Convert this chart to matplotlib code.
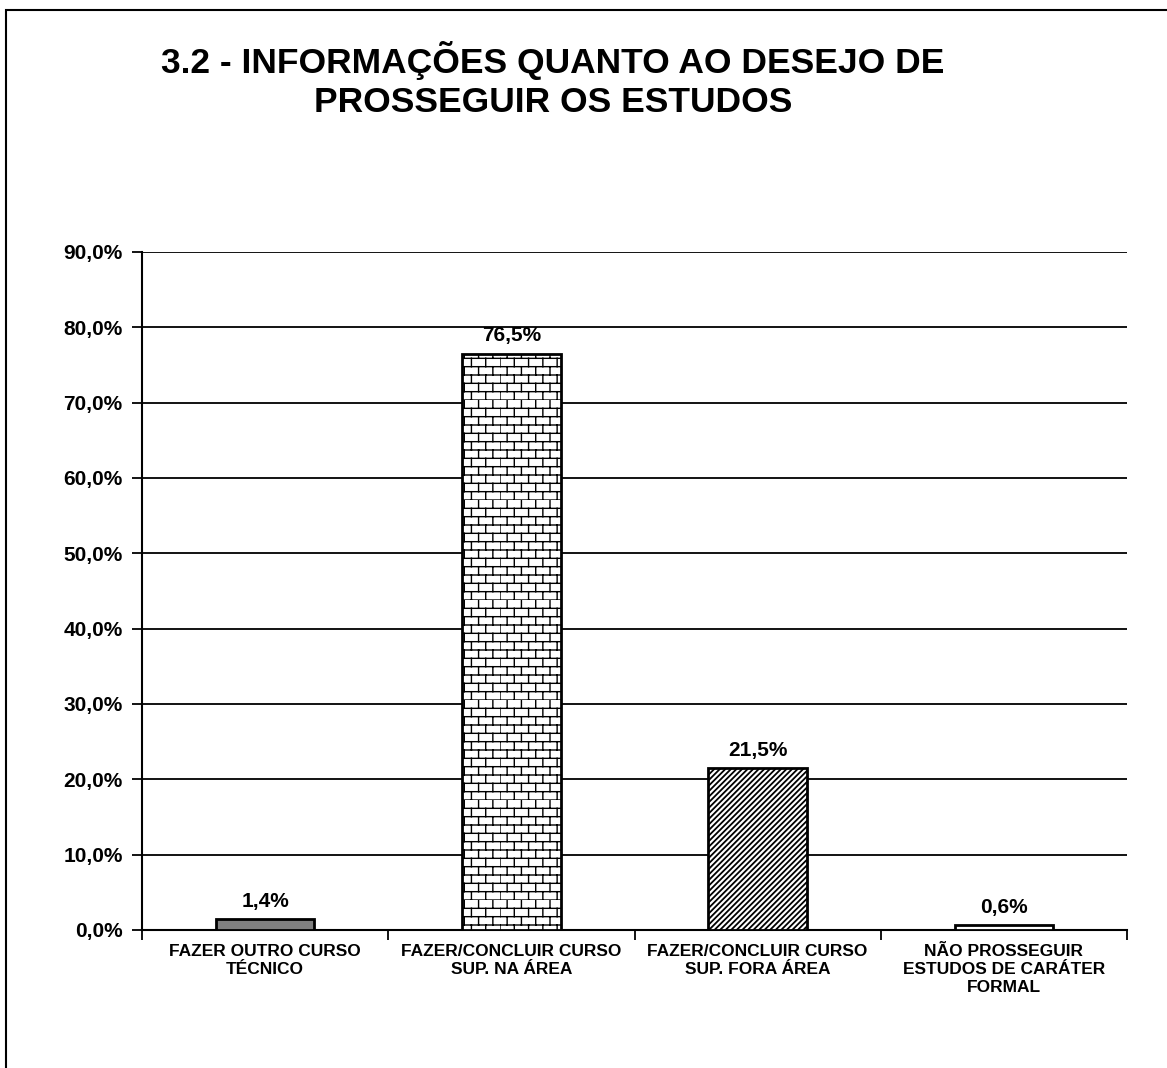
import warnings
warnings.filterwarnings("ignore")
import numpy as np
import matplotlib
matplotlib.use("Agg")
import matplotlib.pyplot as plt
from matplotlib import hatch as mhatch
from matplotlib.path import Path
from matplotlib.patches import Rectangle

# ---- data ----
categories = ["FAZER OUTRO CURSO\nTÉCNICO",
              "FAZER/CONCLUIR CURSO\nSUP. NA ÁREA",
              "FAZER/CONCLUIR CURSO\nSUP. FORA ÁREA",
              "NÃO PROSSEGUIR\nESTUDOS DE CARÁTER\nFORMAL"]
values = [1.4, 76.5, 21.5, 0.6]
value_labels = ["1,4%", "76,5%", "21,5%", "0,6%"]
yticks = [0, 10, 20, 30, 40, 50, 60, 70, 80, 90]
ytick_labels = ["0,0%", "10,0%", "20,0%", "30,0%", "40,0%", "50,0%",
                "60,0%", "70,0%", "80,0%", "90,0%"]
title = "3.2 - INFORMAÇÕES QUANTO AO DESEJO DE\nPROSSEGUIR OS ESTUDOS"


# ---- custom brick hatch ----
class BrickHatch(mhatch.HatchPatternBase):
    def __init__(self, hatch, density):
        self.on = 'b' in hatch
        self.rows = 12
        self.cols = 7
        if self.on:
            self.num_vertices = (self.rows + self.rows * self.cols) * 2
        else:
            self.num_vertices = 0

    def set_vertices_and_codes(self, vertices, codes):
        k = 0
        h = 1.0 / self.rows
        w = 1.0 / self.cols
        for r in range(self.rows):
            y = r * h
            vertices[k] = (0, y); codes[k] = Path.MOVETO; k += 1
            vertices[k] = (1, y); codes[k] = Path.LINETO; k += 1
        for r in range(self.rows):
            y0 = r * h
            y1 = (r + 1) * h
            off = 0.0 if r % 2 == 0 else w / 2
            for c in range(self.cols):
                x = c * w + off
                vertices[k] = (x, y0); codes[k] = Path.MOVETO; k += 1
                vertices[k] = (x, y1); codes[k] = Path.LINETO; k += 1


mhatch._hatch_types.append(BrickHatch)

plt.rcParams['font.family'] = ['Liberation Sans', 'DejaVu Sans']

fig = plt.figure(figsize=(11.67, 10.68), dpi=100)
# outer border (extends past right and bottom edges)
fig.patches.append(Rectangle((6 / 1167, -0.2), 1.2, 1.2 - 10 / 1068,
                             transform=fig.transFigure, fill=False,
                             edgecolor='black', linewidth=1.5))

ax = fig.add_axes([142 / 1167, 1 - 930 / 1068, (1127 - 142) / 1167, (930 - 252) / 1068])

x = np.arange(len(categories))
fills = ['#808080', 'white', 'white', 'white']
hatches = ['', 'b', '//////', '.']
hatch_lw = [1.0, 1.0, 1.3, 1.0]
for i in range(len(values)):
    plt.rcParams['hatch.linewidth'] = hatch_lw[i]
    ax.bar(x[i], values[i], width=0.4, color=fills[i], edgecolor='black',
           linewidth=2, hatch=hatches[i], zorder=3)
    ax.text(x[i], values[i] + 1.1, value_labels[i], ha='center', va='bottom',
            fontsize=15, fontweight='bold')

ax.set_xlim(-0.5, len(categories) - 0.5)
ax.set_ylim(0, 90)
ax.set_yticks(yticks)
ax.set_yticklabels(ytick_labels, fontsize=15, fontweight='bold')
ax.yaxis.grid(True, color='black', linewidth=1.3, zorder=0)
ax.set_axisbelow(True)
ax.set_xticks(x)
ax.set_xticklabels(categories, fontsize=12.5, fontweight='bold', linespacing=1.25)
ax.tick_params(axis='x', length=0, pad=10)
ax.set_xticks(np.arange(len(categories) + 1) - 0.5, minor=True)
ax.tick_params(axis='x', which='minor', length=7, width=1.3, direction='out')
ax.tick_params(axis='y', length=7, width=1.3, direction='out', pad=7)
for s in ['top', 'right']:
    ax.spines[s].set_visible(False)
ax.spines['left'].set_linewidth(1.5)
ax.spines['bottom'].set_linewidth(1.5)

fig.text(553 / 1167, 1 - 80 / 1068, title, ha='center', va='center',
         fontsize=25.5, fontweight='bold', linespacing=1.2)

fig.savefig("out.png", dpi=100, facecolor='white')
